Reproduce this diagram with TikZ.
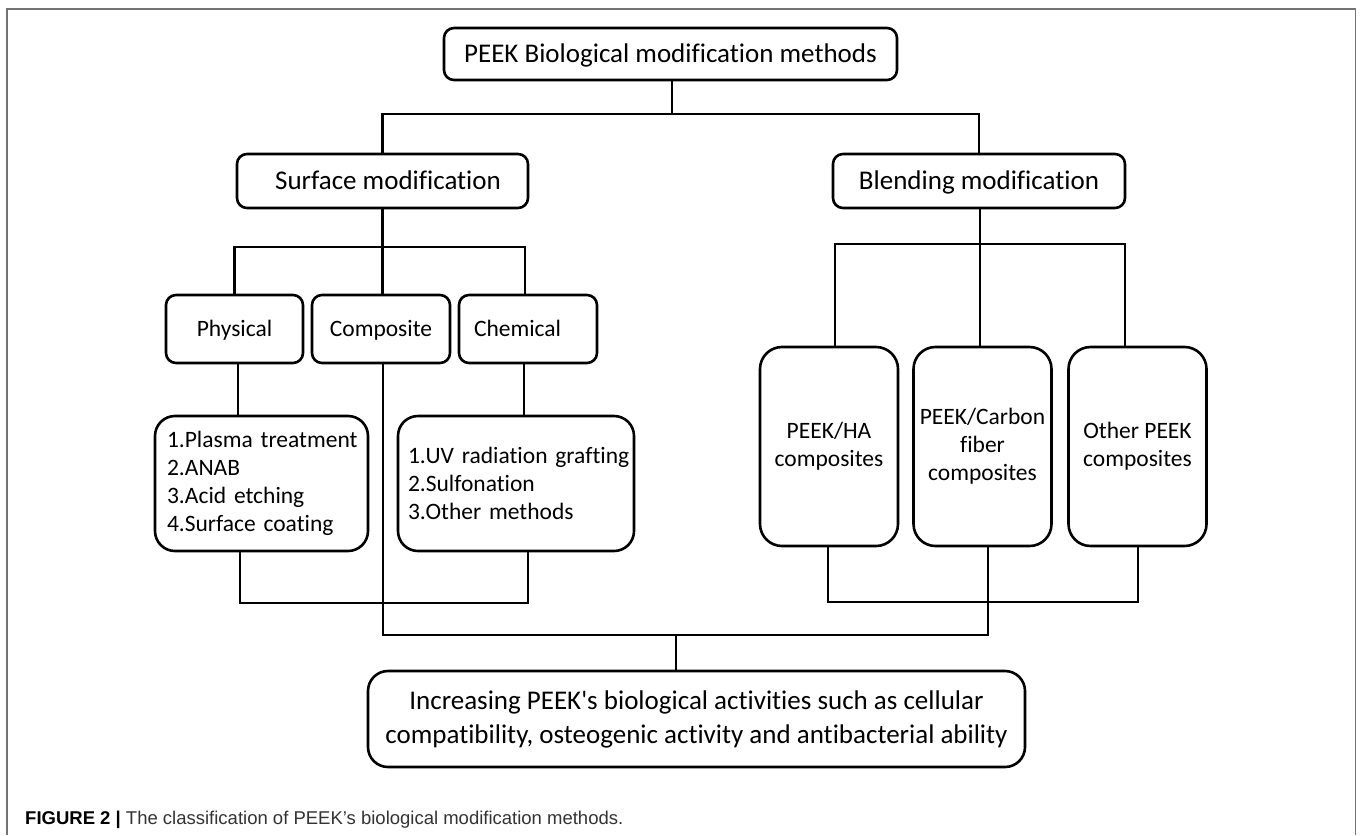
\documentclass[tikz,border=0pt]{standalone}
\usepackage{fontspec}
\setmainfont{Carlito}[Ligatures=NoCommon]
\newfontfamily\capfont{Liberation Sans}
\begin{document}
\begin{tikzpicture}[x=1bp,y=-1bp,
  box/.style={draw, line width=2.6bp, rounded corners=10bp, inner sep=0pt, align=center},
  hdr/.style={box, font=\fontsize{27bp}{34bp}\selectfont},
  sub/.style={box, font=\fontsize{23.5bp}{28bp}\selectfont},
  hdrline/.style={text height=20bp, text depth=2.6bp},
  subline/.style={text height=17bp, text depth=1.9bp},
  listbox/.style={sub, rounded corners=20bp, minimum height=135bp, align=left},
  tallbox/.style={sub, rounded corners=22bp, minimum width=138bp, minimum height=199bp},
  conn/.style={line width=2.6bp},
  frameline/.style={draw=black!55, line width=1.5bp}
]
\useasboundingbox (0,0) rectangle (1360,835);
\fill[white] (0,0) rectangle (1360,835);
\draw[frameline] (7,835) -- (7,9) -- (1355.5,9) -- (1355.5,835);

% nodes
\node[hdr, hdrline, minimum width=453bp, minimum height=52bp] (top) at (670.5,54) {PEEK Biological modification methods};
\node[hdr, hdrline, minimum width=291bp, minimum height=54bp] (surf) at (382.5,181) {\hspace*{11bp}Surface modification};
\node[hdr, hdrline, minimum width=292bp, minimum height=54bp] (blend) at (979,181) {Blending modification};

\node[sub, subline, minimum width=137bp, minimum height=68bp] (phys) at (234.5,329) {Physical};
\node[sub, subline, minimum width=138bp, minimum height=68bp] (comp) at (381,329) {Composite};
\node[sub, subline, minimum width=138bp, minimum height=68bp, align=left, text width=108bp, inner xsep=15bp] (chem) at (528,329) {Chemical};

\node[listbox, minimum width=213bp, text width=189bp, inner xsep=12bp] (plist) at (261.5,483.5)
  {\mbox{1.Plasma treatment}\\\mbox{2.ANAB}\\\mbox{3.Acid etching}\\\mbox{4.Surface coating}};
\node[listbox, minimum width=236bp, text width=216bp, inner xsep=10bp] (clist) at (516,483.5)
  {\mbox{1.UV radiation grafting}\\\mbox{2.Sulfonation}\\\mbox{3.Other methods}};

\node[tallbox] (ha) at (829,446.5) {PEEK/HA\\composites};
\node[tallbox] (carbon) at (982.5,446.5) {PEEK/Carbon\\fiber\\composites};
\node[tallbox] (other) at (1137.5,446.5) {Other PEEK\\composites};

\node[hdr, rounded corners=20bp, minimum width=657bp, minimum height=96bp] (bot) at (696.5,719)
  {Increasing PEEK\textquotesingle s biological activities such as cellular\\compatibility, osteogenic activity and antibacterial ability};

% connectors
\coordinate (j1) at (672,114);
\draw[conn] (top.south -| j1) -- (j1);
\draw[conn] (surf.north) |- (j1) -| (blend.north);

\draw[conn] (surf.south) -- (surf.south |- comp.north);
\coordinate (j2) at (382.5,247);
\draw[conn] (phys.north) |- (j2) -| (chem.north -| 525,0);

\draw[conn] (phys.south -| 238,0) -- (plist.north -| 238,0);
\draw[conn] (chem.south -| 524,0) -- (clist.north -| 524,0);

\coordinate (j3) at (240,603);
\draw[conn] (plist.south -| j3) -- (j3) -- (j3 -| 528,0) -- (clist.south -| 528,0);

\coordinate (j7) at (980,244);
\draw[conn] (blend.south -| j7) -- (j7 |- carbon.north);
\draw[conn] (ha.north -| 835,0) |- (j7) -| (other.north -| 1125,0);

\coordinate (j6) at (828,602);
\draw[conn] (ha.south -| j6) -- (j6) -- (j6 -| 1138,0) -- (other.south -| 1138,0);

\coordinate (j4) at (383,635);
\coordinate (j5) at (988,635);
\draw[conn] (comp.south -| j4) -- (j4) -- (j5) -- (carbon.south -| j5);
\draw[conn] (676,635) -- (bot.north -| 676,0);

% caption
\node[anchor=base west, inner sep=0pt, font=\capfont\fontsize{18.5bp}{22bp}\selectfont] (cap) at (25,824)
  {\textbf{FIGURE 2 |} {\color{black!80}The classification of PEEK’s biological modification methods.}};
\end{tikzpicture}
\end{document}
